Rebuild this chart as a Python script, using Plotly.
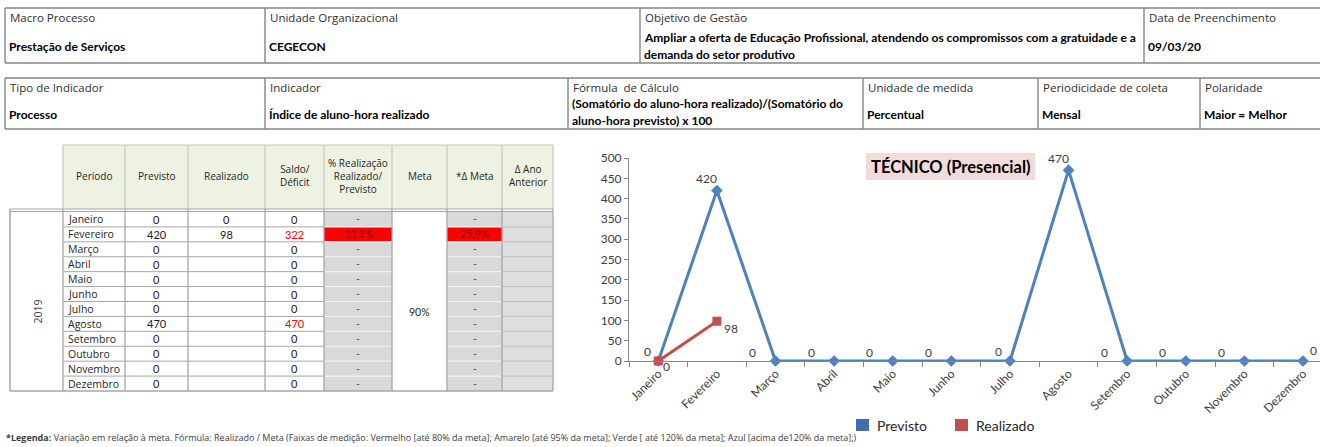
import plotly.graph_objects as go

W, H = 1320, 447

# ---------------- data ----------------
months = ["Janeiro", "Fevereiro", "Março", "Abril", "Maio", "Junho", "Julho",
          "Agosto", "Setembro", "Outubro", "Novembro", "Dezembro"]
previsto = [0, 420, 0, 0, 0, 0, 0, 470, 0, 0, 0, 0]
realizado = [0, 98, None, None, None, None, None, None, None, None, None, None]
meta = 0.90
ano = "2019"
y_ticks = [0, 50, 100, 150, 200, 250, 300, 350, 400, 450, 500]

info_row1 = [
    ("Macro Processo", ["Prestação de Serviços"]),
    ("Unidade Organizacional", ["CEGECON"]),
    ("Objetivo de Gestão", ["Ampliar a oferta de Educação Profissional, atendendo os compromissos com a gratuidade e a",
                            "demanda do setor produtivo"]),
    ("Data de Preenchimento", ["09/03/20"]),
]
info_row2 = [
    ("Tipo de Indicador", ["Processo"]),
    ("Indicador", ["Índice de aluno-hora realizado"]),
    ("Fórmula  de Cálculo", ["(Somatório do aluno-hora realizado)/(Somatório do",
                             "aluno-hora previsto) x 100"]),
    ("Unidade de medida", ["Percentual"]),
    ("Periodicidade de coleta", ["Mensal"]),
    ("Polaridade", ["Maior = Melhor"]),
]
table_headers = ["Período", "Previsto", "Realizado", "Saldo/<br>Déficit",
                 "% Realização<br>Realizado/<br>Previsto", "Meta", "*Δ Meta", "Δ Ano<br>Anterior"]
chart_title = "TÉCNICO (Presencial)"
footnote_bold = "*Legenda:"
footnote = (" Variação em relação à meta. Fórmula: Realizado / Meta (Faixas de medição: Vermelho [até 80% da meta]; "
            "Amarelo [até 95% da meta]; Verde [ até 120% da meta]; Azul [acima de120% da meta];)")

# ---------------- helpers (pixel -> paper) ----------------
shapes = []
annots = []


def px(x):
    return x / W


def py(y):
    return 1 - y / H


def rect(x0, y0, x1, y1, fill, line_color=None, lw=0):
    shapes.append(dict(type="rect", xref="paper", yref="paper",
                       x0=px(x0), x1=px(x1), y0=py(y1), y1=py(y0),
                       fillcolor=fill, line=dict(width=lw, color=line_color or fill)))


def line(x0, y0, x1, y1, color="#8C8C8C", lw=1):
    shapes.append(dict(type="line", xref="paper", yref="paper",
                       x0=px(x0), x1=px(x1), y0=py(y0), y1=py(y1),
                       line=dict(color=color, width=lw)))


def text(x, y, s, size=11, color="#262626", family="Open Sans", xanchor="left", angle=0, bold=False):
    if bold:
        s = "<b>" + s + "</b>"
    annots.append(dict(xref="paper", yref="paper", x=px(x), y=py(y), text=s, showarrow=False,
                       xanchor=xanchor, yanchor="middle", textangle=angle,
                       font=dict(size=size, color=color, family=family)))


# ---------------- info tables ----------------
BORDER = "#858585"


def info_table(top, bottom, xs, items, label_y, value_ys):
    line(xs[0], top, W, top, BORDER, 1.6)
    line(xs[0], bottom, W, bottom, BORDER, 1.6)
    for x in xs:
        line(x, top, x, bottom, BORDER, 1.4)
    for (lab, vals), x in zip(items, xs):
        text(x + 3, label_y, lab, size=11.5, color="#303030")
        ys = value_ys[len(vals)]
        for v, yy in zip(vals, ys):
            text(x + 2, yy, v, size=12, color="#000000", family="Lato", bold=True)


info_table(8, 63, [5, 265, 640, 1144], info_row1, 18, {1: [46], 2: [37, 54]})
info_table(78, 129, [5, 265, 568, 863, 1038, 1200], info_row2, 88, {1: [114], 2: [104, 121]})

# ---------------- data table ----------------
cols = [63, 125, 188, 265, 324, 392, 447, 502, 553]
hdr_top, hdr_bot = 145, 209
row_top, row_bot = 212, 391
n = len(months)
rh = (row_bot - row_top) / n
GRID = "#A6A6A6"

# header
rect(cols[0], hdr_top, cols[-1], hdr_bot, "#EDF2E3")
for x in cols:
    line(x, hdr_top, x, hdr_bot, "#C5CCBB", 1.2)
line(cols[0], hdr_top, cols[-1], hdr_top, "#C5CCBB", 1.2)
for i, h in enumerate(table_headers):
    cx = (cols[i] + cols[i + 1]) / 2
    text(cx, 176, h, size=10, color="#262626", xanchor="center")

# body fills
pct_vals, dmeta_vals, saldo_vals = [], [], []
for i in range(n):
    p = previsto[i]
    r = realizado[i]
    saldo_vals.append(p - (r or 0))
    if r is not None and p:
        pct_vals.append(r / p)
        dmeta_vals.append((r / p) / meta)
    else:
        pct_vals.append(None)
        dmeta_vals.append(None)

for i in range(n):
    y0 = row_top + i * rh
    y1 = y0 + rh
    c_pct = "#FF0000" if pct_vals[i] is not None and pct_vals[i] < 0.8 * meta else "#D9D9D9"
    c_dm = "#FF0000" if dmeta_vals[i] is not None and dmeta_vals[i] < 0.8 else "#D9D9D9"
    rect(cols[4], y0, cols[5], y1, c_pct)
    rect(cols[6], y0, cols[7], y1, c_dm)
    rect(cols[7], y0, cols[8], y1, "#DEDEDE")

# row lines
for i in range(1, n):
    y = row_top + i * rh
    line(cols[0], y, cols[4], y, GRID, 1)
    line(cols[4], y, cols[5], y, "#F2F2F2", 1.2)
    line(cols[6], y, cols[7], y, "#F2F2F2", 1.2)
    line(cols[7], y, cols[8], y, "#BDBDBD", 1)

# outer structure
line(10, hdr_bot, cols[-1], hdr_bot, GRID, 1.2)
line(10, row_top - 0.5, cols[-1], row_top - 0.5, GRID, 1.2)
line(10, hdr_bot, 10, row_bot, GRID, 1.5)
line(10, row_bot, cols[-1], row_bot, GRID, 1.5)
for x in cols:
    line(x, hdr_bot, x, row_bot, GRID, 1.3)


# body text
def fmt_pct(v):
    return ("%.1f%%" % (v * 100)).replace(".", ",")


for i, m in enumerate(months):
    cy = row_top + (i + 0.5) * rh
    text(cols[0] + 3, cy, m, size=10.5, color="#262626")
    text((cols[1] + cols[2]) / 2, cy, str(previsto[i]), size=11, color="#1A1A1A", family="Lato", xanchor="center")
    if realizado[i] is not None:
        text((cols[2] + cols[3]) / 2, cy, str(realizado[i]), size=11, color="#1A1A1A", family="Lato", xanchor="center")
    s = saldo_vals[i]
    text((cols[3] + cols[4]) / 2, cy, str(s), size=11, color="#FF0000" if s > 0 else "#1A1A1A",
         family="Lato", xanchor="center")
    t_pct = fmt_pct(pct_vals[i]) if pct_vals[i] is not None else "-"
    t_dm = fmt_pct(dmeta_vals[i]) if dmeta_vals[i] is not None else "-"
    text((cols[4] + cols[5]) / 2, cy, t_pct, size=10.5, color="#8B0000" if pct_vals[i] is not None else "#595959",
         family="Lato", xanchor="center")
    text((cols[6] + cols[7]) / 2, cy, t_dm, size=10.5, color="#8B0000" if dmeta_vals[i] is not None else "#595959",
         family="Lato", xanchor="center")

mid_y = (row_top + row_bot) / 2 + 10
text((cols[5] + cols[6]) / 2, mid_y, "%d%%" % round(meta * 100), size=10.5, color="#262626", family="Lato",
     xanchor="center")
text(37, mid_y, ano, size=10.5, color="#404040", xanchor="center", angle=-90)

# footnote
text(4, 437, "<b>" + footnote_bold + "</b>" + footnote, size=9, color="#404040", family="Open Sans")

# ---------------- chart ----------------
fig = go.Figure()
fig.add_trace(go.Scatter(x=months, y=previsto, mode="lines+markers", name="Previsto",
                         line=dict(color="#4F81BD", width=3),
                         marker=dict(symbol="diamond", size=9, color="#4F81BD"),
                         cliponaxis=False))
fig.add_trace(go.Scatter(x=months, y=realizado, mode="lines+markers", name="Realizado",
                         line=dict(color="#C0504D", width=3),
                         marker=dict(symbol="square", size=9, color="#C0504D"),
                         cliponaxis=False))

lab_font = dict(family="Lato", size=12, color="#404040")
for i, v in enumerate(previsto):
    if v > 0:
        dx, dy = -10, 12
    elif i == n - 1:
        dx, dy = 10, 11
    elif i + 1 < n and previsto[i + 1] > 0:
        dx, dy = -11, 10
    else:
        dx, dy = -23, 9
    annots.append(dict(x=months[i], y=v, xref="x", yref="y", text=str(v), showarrow=False,
                       xshift=dx, yshift=dy, font=lab_font))
for i, v in enumerate(realizado):
    if v is None:
        continue
    if v > 0:
        dx, dy = 14, -7
    else:
        dx, dy = 8, -5
    annots.append(dict(x=months[i], y=v, xref="x", yref="y", text=str(v), showarrow=False,
                       xshift=dx, yshift=dy, font=lab_font))

# chart title box
rect(866, 153, 1035, 180, "#F2DCDB")
text(950.5, 166.5, chart_title, size=16.5, color="#000000", family="Lato", xanchor="center", bold=True)

# legend
rect(856, 419, 869, 431, "#3F6DAE")
text(875, 425, "Previsto", size=14, color="#262626", family="Lato")
rect(955, 419, 968, 431, "#C0504D")
text(974, 425, "Realizado", size=14, color="#262626", family="Lato")

x_left = 629
x_end = n - 1 + (W - 1303) / 58.6
fig.update_layout(
    width=W, height=H,
    margin=dict(l=0, r=0, t=0, b=0, autoexpand=False),
    paper_bgcolor="white", plot_bgcolor="white",
    showlegend=False,
    shapes=shapes,
    annotations=annots,
    xaxis=dict(domain=[px(x_left), 1], range=[-0.5, x_end], type="category",
               showline=True, linecolor="#868686", linewidth=1,
               ticks="outside", tickson="boundaries", ticklen=5, tickcolor="#868686",
               tickangle=-45, tickfont=dict(family="Lato", size=12, color="#404040"),
               showgrid=False, zeroline=False, fixedrange=True, automargin=False),
    yaxis=dict(domain=[py(361), py(158)], range=[0, 500], tickvals=y_ticks,
               showline=True, linecolor="#868686", linewidth=1,
               ticks="outside", ticklen=4, tickcolor="#868686",
               tickfont=dict(family="Lato", size=12, color="#404040"),
               showgrid=False, zeroline=False, fixedrange=True, automargin=False),
)

fig.write_html("out.html",
               config={"displayModeBar": False},
               post_script="document.body.style.margin='0';document.body.style.overflow='hidden';"
                           "document.documentElement.style.overflow='hidden';")
